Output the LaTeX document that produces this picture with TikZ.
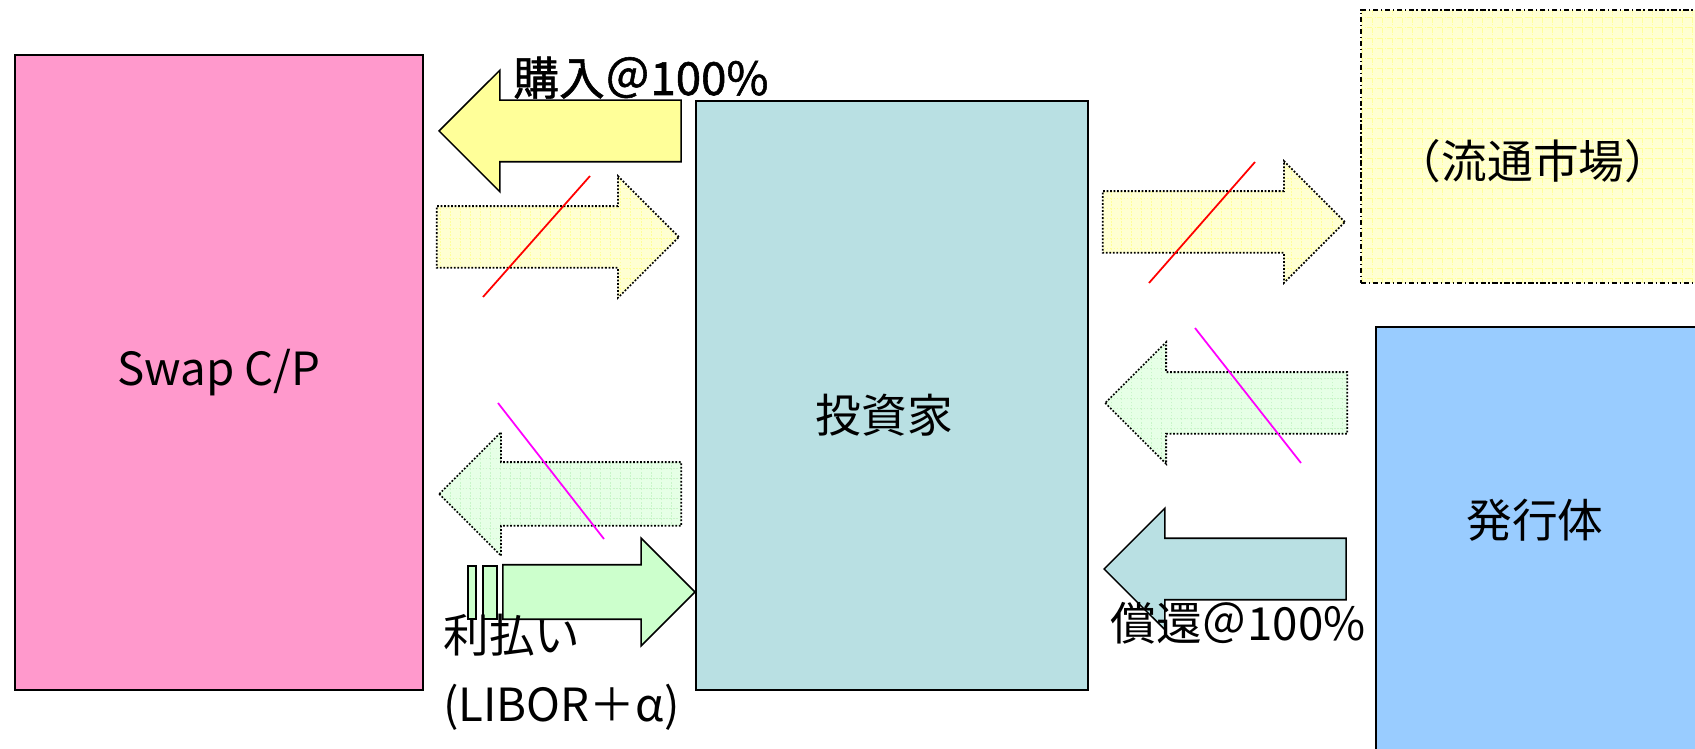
\documentclass[tikz,border=0pt]{standalone}
\usepackage{fontspec}
\setmainfont{Noto Sans CJK JP}
\newfontfamily\heavyjp[FakeBold=1.2]{Noto Sans CJK JP}
\usepackage{tikz}
\usetikzlibrary{shapes.arrows,patterns.meta}
\definecolor{swappink}{HTML}{FF99CC}
\definecolor{invteal}{HTML}{B9E0E3}
\definecolor{issblue}{HTML}{99CCFF}
\definecolor{buyyellow}{HTML}{FFFF99}
\definecolor{paleyellow}{HTML}{FFFFD2}
\definecolor{gridyellow}{HTML}{FFFF99}
\definecolor{solidgreen}{HTML}{CCFFCC}
\definecolor{palegreen}{HTML}{E6FFE6}
\definecolor{gridgreen}{HTML}{C8F5C8}
\definecolor{strikered}{RGB}{255,0,0}
\definecolor{strikemag}{RGB}{255,0,255}
\tikzset{
    every node/.style={inner sep=0mm, font=\fontsize{26}{39}\selectfont}
}
\tikzset{
    party/.style={rectangle, draw, line width=0.9pt},
    flow/.style={single arrow, draw, line width=0.9pt, anchor=tip, inner ysep=0.6cm,
        single arrow head extend=0.6cm, minimum width=2.4cm, minimum height=4.84cm},
    flowleft/.style={flow, shape border rotate=180},
    dots/.style={dash pattern=on 1pt off 1pt, line width=1pt},
    ygrid/.style={preaction={fill=paleyellow},
        pattern={Hatch[distance=5.7pt, angle=0, line width=0.5pt]}, pattern color=gridyellow},
    ggrid/.style={preaction={fill=palegreen},
        pattern={Hatch[distance=5.7pt, angle=0, line width=0.5pt]}, pattern color=gridgreen},
    strike/.style={line width=1pt}
}

\begin{document}
\begin{tikzpicture}[x=0.02cm, y=-0.02cm]
    \useasboundingbox (0,0) rectangle (1695,749);
    \clip (0,0) rectangle (1695,749);

    % parties
    \node (sw) [party, fill=swappink, minimum width=8.16cm, minimum height=12.7cm,
        label={center:Swap C/P}] at (219, 372.5) {};
    \node (inv) [party, fill=invteal, minimum width=7.84cm, minimum height=11.78cm,
        label={[yshift=-0.4cm, xshift=-0.15cm]center:投資家}] at (892, 395.5) {};
    \node (mkt) [party, ygrid, line width=0.8pt, dash pattern=on 3pt off 1.5pt on 0.8pt off 1.5pt,
        minimum width=6.88cm, minimum height=5.46cm,
        label={[yshift=-0.3cm]center:（流通市場）}] at (1533, 146.5) {};
    \node (iss) [party, fill=issblue, minimum width=6.68cm, minimum height=8.66cm,
        label={[yshift=0.46cm, xshift=-0.16cm]center:発行体}] at (1543, 543.5) {};

    % flows between Swap C/P and investor
    \node (buy) [flowleft, fill=buyyellow] at (438, 131) {};
    \node (sell) [flow, dots, ygrid] at (680, 237) {};
    \node (cpn) [flowleft, dots, ggrid, inner ysep=0.62cm] at (438, 494) {};
    \node (pay) [flow, fill=solidgreen, inner ysep=0.53cm, minimum width=2.12cm,
        minimum height=3.84cm, single arrow head extend=0.53cm] at (696, 592) {};
    \node (p1) [party, fill=solidgreen, minimum width=0.16cm, minimum height=1.06cm] at (472, 592.5) {};
    \node (p2) [party, fill=solidgreen, minimum width=0.28cm, minimum height=1.06cm] at (490, 592.5) {};

    % flows between investor and market / issuer
    \node (sell2) [flow, dots, ygrid] at (1346, 222) {};
    \node (cpn2) [flowleft, dots, ggrid] at (1104, 403) {};
    \node (red) [flowleft, fill=invteal] at (1103, 569) {};

    % strike-through marks
    \draw [strike, strikered] (483, 297) -- (590, 176);
    \draw [strike, strikemag] (498, 403) -- (604, 539);
    \draw [strike, strikered] (1149, 283) -- (1255, 162);
    \draw [strike, strikemag] (1195, 328) -- (1301, 463);

    % labels
    \node (buytxt) [anchor=base west, font=\fontsize{26}{39}\heavyjp] at (513, 95) {購入＠100\%};
    \node (cpntxt) [anchor=base west] at (443, 653) {利払い};
    \node (libtxt) [anchor=base west] at (443, 722) {(LIBOR＋α)};
    \node (redtxt) [anchor=base west] at (1110, 641) {償還＠100\%};
\end{tikzpicture}
\end{document}
